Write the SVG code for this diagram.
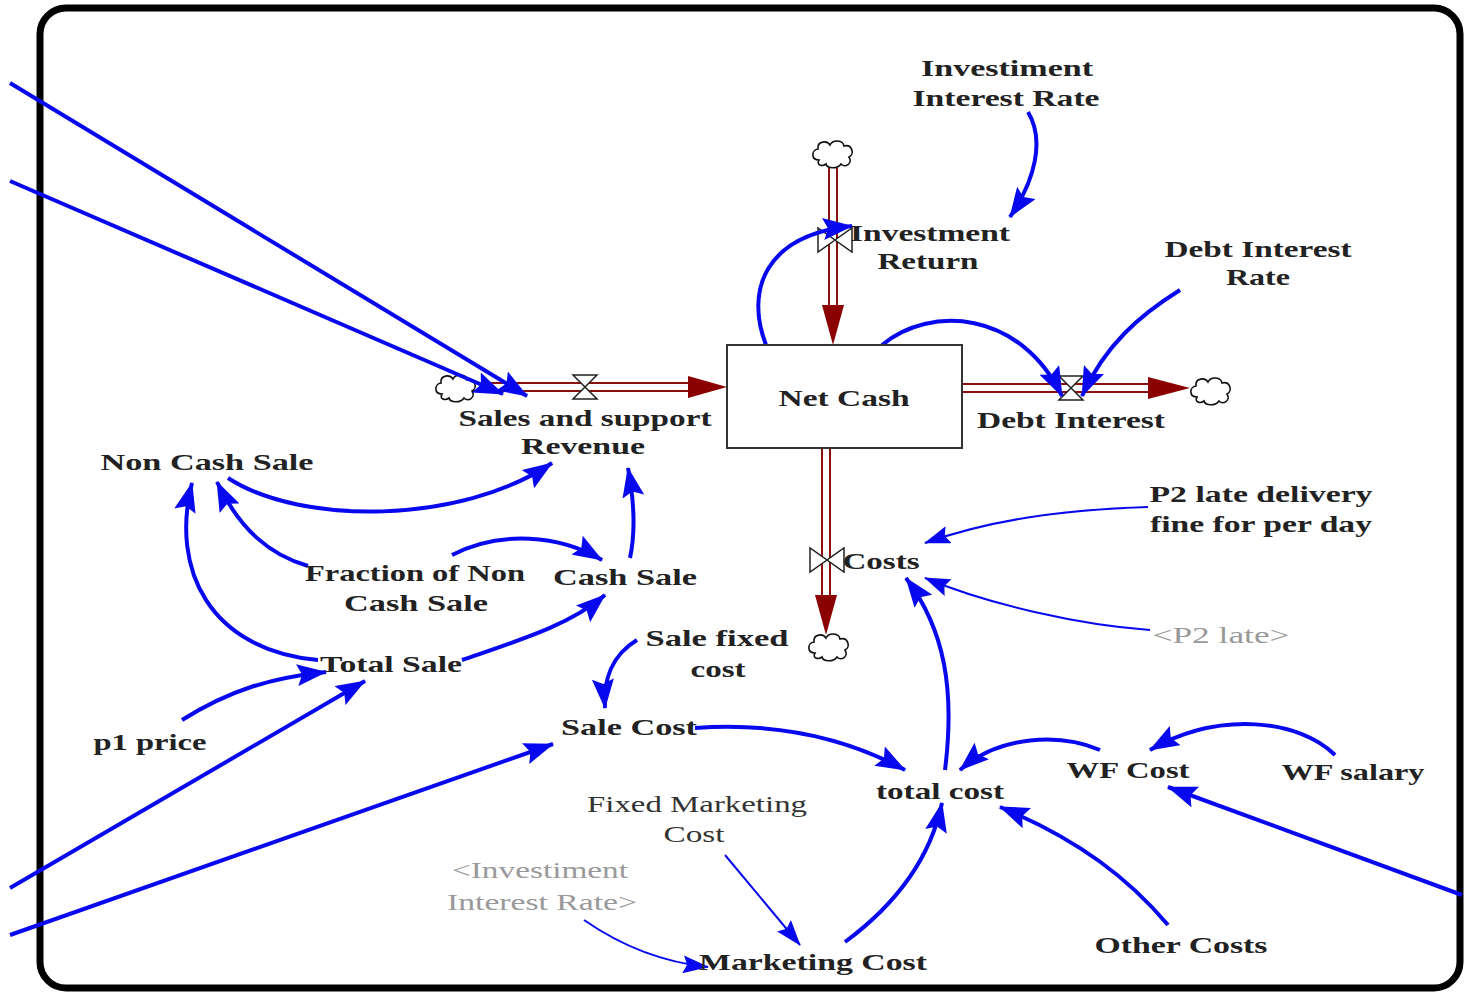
<svg xmlns="http://www.w3.org/2000/svg" width="1466" height="993" viewBox="0 0 1466 993">
<style>
.t{font-family:"Liberation Serif","Times New Roman",serif;font-size:24px;font-weight:bold;fill:#222;text-anchor:middle}
.n{font-family:"Liberation Serif","Times New Roman",serif;font-size:24px;fill:#333;text-anchor:middle}
.g{font-family:"Liberation Serif","Times New Roman",serif;font-size:24px;fill:#999;text-anchor:middle}
.lk{fill:none;stroke:#0808ee;stroke-width:4;marker-end:url(#ab)}
.lt{fill:none;stroke:#0808ee;stroke-width:2;marker-end:url(#at)}
.po{fill:none;stroke:#8b1010;stroke-width:10}
.pi{fill:none;stroke:#fff;stroke-width:6}
.fa{fill:#8b0000}
.v{fill:#fff;stroke:#222;stroke-width:1.5}
.c{fill:#fff;stroke:#111;stroke-width:1.6}
</style>
<defs>
<marker id="ab" markerUnits="userSpaceOnUse" markerWidth="32" markerHeight="22" refX="29" refY="11" orient="auto"><path d="M0,0 L30,11 L0,22 L5,11 Z" fill="#0808ee"/></marker>
<marker id="at" markerUnits="userSpaceOnUse" markerWidth="28" markerHeight="18" refX="25" refY="9" orient="auto"><path d="M0,0 L26,9 L0,18 L4,9 Z" fill="#0808ee"/></marker>
<path id="cloud" d="M-14,6 C-22,6 -22,-4 -15,-5 C-16,-13 -6,-14 -3,-9 C0,-15 10,-14 11,-8 C19,-10 22,0 16,3 C20,10 12,14 8,10 C5,15 -6,15 -7,10 C-11,13 -17,11 -14,6 Z"/>
</defs>
<rect width="1466" height="993" fill="#fff"/>
<rect x="40" y="8" width="1420" height="980" rx="26" ry="26" fill="none" stroke="#000" stroke-width="7"/>

<g id="connectors">
<!-- flows -->
<path class="po" d="M473,387 H692"/><path class="pi" d="M473,387 H692"/>
<path class="fa" d="M688,376 L727,387 L688,398 Z"/>
<path class="po" d="M833,168 V308"/><path class="pi" d="M833,168 V308"/>
<path class="fa" d="M822,305 L833,345 L844,305 Z"/>
<path class="po" d="M962,388 H1152"/><path class="pi" d="M962,388 H1152"/>
<path class="fa" d="M1148,377 L1190,388 L1148,399 Z"/>
<path class="po" d="M826,448 V598"/><path class="pi" d="M826,448 V598"/>
<path class="fa" d="M815,595 L826,635 L837,595 Z"/>
<!-- valves -->
<path class="v" d="M573,375 L597,375 L585,387 Z M573,399 L597,399 L585,387 Z"/>
<path class="v" d="M818,228 L818,252 L835,240 Z M852,228 L852,252 L835,240 Z"/>
<path class="v" d="M1059,376 L1083,376 L1071,388 Z M1059,400 L1083,400 L1071,388 Z"/>
<path class="v" d="M810,548 L810,572 L827,560 Z M844,548 L844,572 L827,560 Z"/>
<!-- clouds -->
<use href="#cloud" class="c" x="456" y="388"/>
<use href="#cloud" class="c" x="833" y="154"/>
<use href="#cloud" class="c" x="1211" y="391"/>
<use href="#cloud" class="c" x="829" y="647"/>
<!-- links -->
<path class="lk" d="M10,83 L527,396"/>
<path class="lk" d="M10,181 L503,394"/>
<path class="lk" d="M1028,112 C1045,140 1035,180 1010,217"/>
<path class="lk" d="M766,345 C745,290 765,235 852,226"/>
<path class="lk" d="M882,345 C930,305 1020,310 1062,396"/>
<path class="lk" d="M1180,290 C1140,315 1105,345 1082,396"/>
<path class="lk" d="M228,478 C300,525 460,525 552,463"/>
<path class="lk" d="M630,558 C636,530 634,500 628,468"/>
<path class="lk" d="M308,566 C270,555 240,530 217,482"/>
<path class="lk" d="M452,555 C500,530 560,535 602,560"/>
<path class="lk" d="M318,660 C210,650 170,570 192,483"/>
<path class="lk" d="M462,660 C520,640 570,625 605,595"/>
<path class="lk" d="M182,720 C230,690 270,678 326,672"/>
<path class="lk" d="M10,888 L365,681"/>
<path class="lk" d="M10,935 L553,744"/>
<path class="lk" d="M637,640 C612,655 603,680 605,708"/>
<path class="lk" d="M695,728 C780,722 850,740 905,770"/>
<path class="lk" d="M945,770 C955,690 945,630 906,578"/>
<path class="lt" d="M1148,507 C1060,510 990,520 925,543"/>
<path class="lt" d="M1150,630 C1080,625 990,605 925,578"/>
<path class="lk" d="M1100,750 C1060,733 1000,735 960,770"/>
<path class="lk" d="M1335,755 C1300,720 1220,710 1150,750"/>
<path class="lk" d="M1462,895 L1168,787"/>
<path class="lk" d="M1168,925 C1130,880 1080,840 1000,807"/>
<path class="lk" d="M845,942 C895,905 930,860 942,803"/>
<path class="lt" d="M725,855 L800,945"/>
<path class="lt" d="M584,920 C620,945 660,962 708,967"/>
</g>

<g id="net-cash"><rect x="727" y="345" width="235" height="103" fill="#fff" stroke="#333" stroke-width="2"/><text class="t" x="844" y="406" textLength="131" lengthAdjust="spacingAndGlyphs">Net Cash</text></g>
<g id="investiment-interest-rate"><text class="t" x="1007" y="76" textLength="172" lengthAdjust="spacingAndGlyphs">Investiment</text><text class="t" x="1006" y="106" textLength="187" lengthAdjust="spacingAndGlyphs">Interest Rate</text></g>
<g id="investment-return"><text class="t" x="930" y="241" textLength="160" lengthAdjust="spacingAndGlyphs">Investment</text><text class="t" x="928" y="269" textLength="101" lengthAdjust="spacingAndGlyphs">Return</text></g>
<g id="debt-interest-rate"><text class="t" x="1258" y="257" textLength="187" lengthAdjust="spacingAndGlyphs">Debt Interest</text><text class="t" x="1258" y="285" textLength="64" lengthAdjust="spacingAndGlyphs">Rate</text></g>
<g id="sales-revenue"><text class="t" x="585" y="426" textLength="253" lengthAdjust="spacingAndGlyphs">Sales and support</text><text class="t" x="583" y="454" textLength="124" lengthAdjust="spacingAndGlyphs">Revenue</text></g>
<g id="debt-interest"><text class="t" x="1071" y="428" textLength="188" lengthAdjust="spacingAndGlyphs">Debt Interest</text></g>
<g id="non-cash-sale"><text class="t" x="207" y="470" textLength="213" lengthAdjust="spacingAndGlyphs">Non Cash Sale</text></g>
<g id="fraction-non-cash-sale"><text class="t" x="415" y="581" textLength="220" lengthAdjust="spacingAndGlyphs">Fraction of Non</text><text class="t" x="416" y="611" textLength="144" lengthAdjust="spacingAndGlyphs">Cash Sale</text></g>
<g id="cash-sale"><text class="t" x="625" y="585" textLength="144" lengthAdjust="spacingAndGlyphs">Cash Sale</text></g>
<g id="p2-fine"><text class="t" x="1261" y="502" textLength="223" lengthAdjust="spacingAndGlyphs">P2 late delivery</text><text class="t" x="1261" y="532" textLength="222" lengthAdjust="spacingAndGlyphs">fine for per day</text></g>
<g id="costs"><text class="t" x="881" y="569" textLength="77" lengthAdjust="spacingAndGlyphs">Costs</text></g>
<g id="p2-late"><text class="g" x="1221" y="643" textLength="137" lengthAdjust="spacingAndGlyphs">&lt;P2 late&gt;</text></g>
<g id="sale-fixed-cost"><text class="t" x="717" y="646" textLength="143" lengthAdjust="spacingAndGlyphs">Sale fixed</text><text class="t" x="718" y="677" textLength="55" lengthAdjust="spacingAndGlyphs">cost</text></g>
<g id="total-sale"><text class="t" x="391" y="672" textLength="142" lengthAdjust="spacingAndGlyphs">Total Sale</text></g>
<g id="p1-price"><text class="t" x="150" y="750" textLength="113" lengthAdjust="spacingAndGlyphs">p1 price</text></g>
<g id="sale-cost"><text class="t" x="629" y="735" textLength="136" lengthAdjust="spacingAndGlyphs">Sale Cost</text></g>
<g id="total-cost"><text class="t" x="940" y="799" textLength="128" lengthAdjust="spacingAndGlyphs">total cost</text></g>
<g id="wf-cost"><text class="t" x="1128" y="778" textLength="123" lengthAdjust="spacingAndGlyphs">WF Cost</text></g>
<g id="wf-salary"><text class="t" x="1353" y="780" textLength="143" lengthAdjust="spacingAndGlyphs">WF salary</text></g>
<g id="fixed-marketing-cost"><text class="n" x="697" y="812" textLength="220" lengthAdjust="spacingAndGlyphs">Fixed Marketing</text><text class="n" x="694" y="842" textLength="61" lengthAdjust="spacingAndGlyphs">Cost</text></g>
<g id="investiment-interest-rate-shadow"><text class="g" x="540" y="878" textLength="176" lengthAdjust="spacingAndGlyphs">&lt;Investiment</text><text class="g" x="542" y="910" textLength="190" lengthAdjust="spacingAndGlyphs">Interest Rate&gt;</text></g>
<g id="marketing-cost"><text class="t" x="813" y="970" textLength="228" lengthAdjust="spacingAndGlyphs">Marketing Cost</text></g>
<g id="other-costs"><text class="t" x="1181" y="953" textLength="173" lengthAdjust="spacingAndGlyphs">Other Costs</text></g>
</svg>
